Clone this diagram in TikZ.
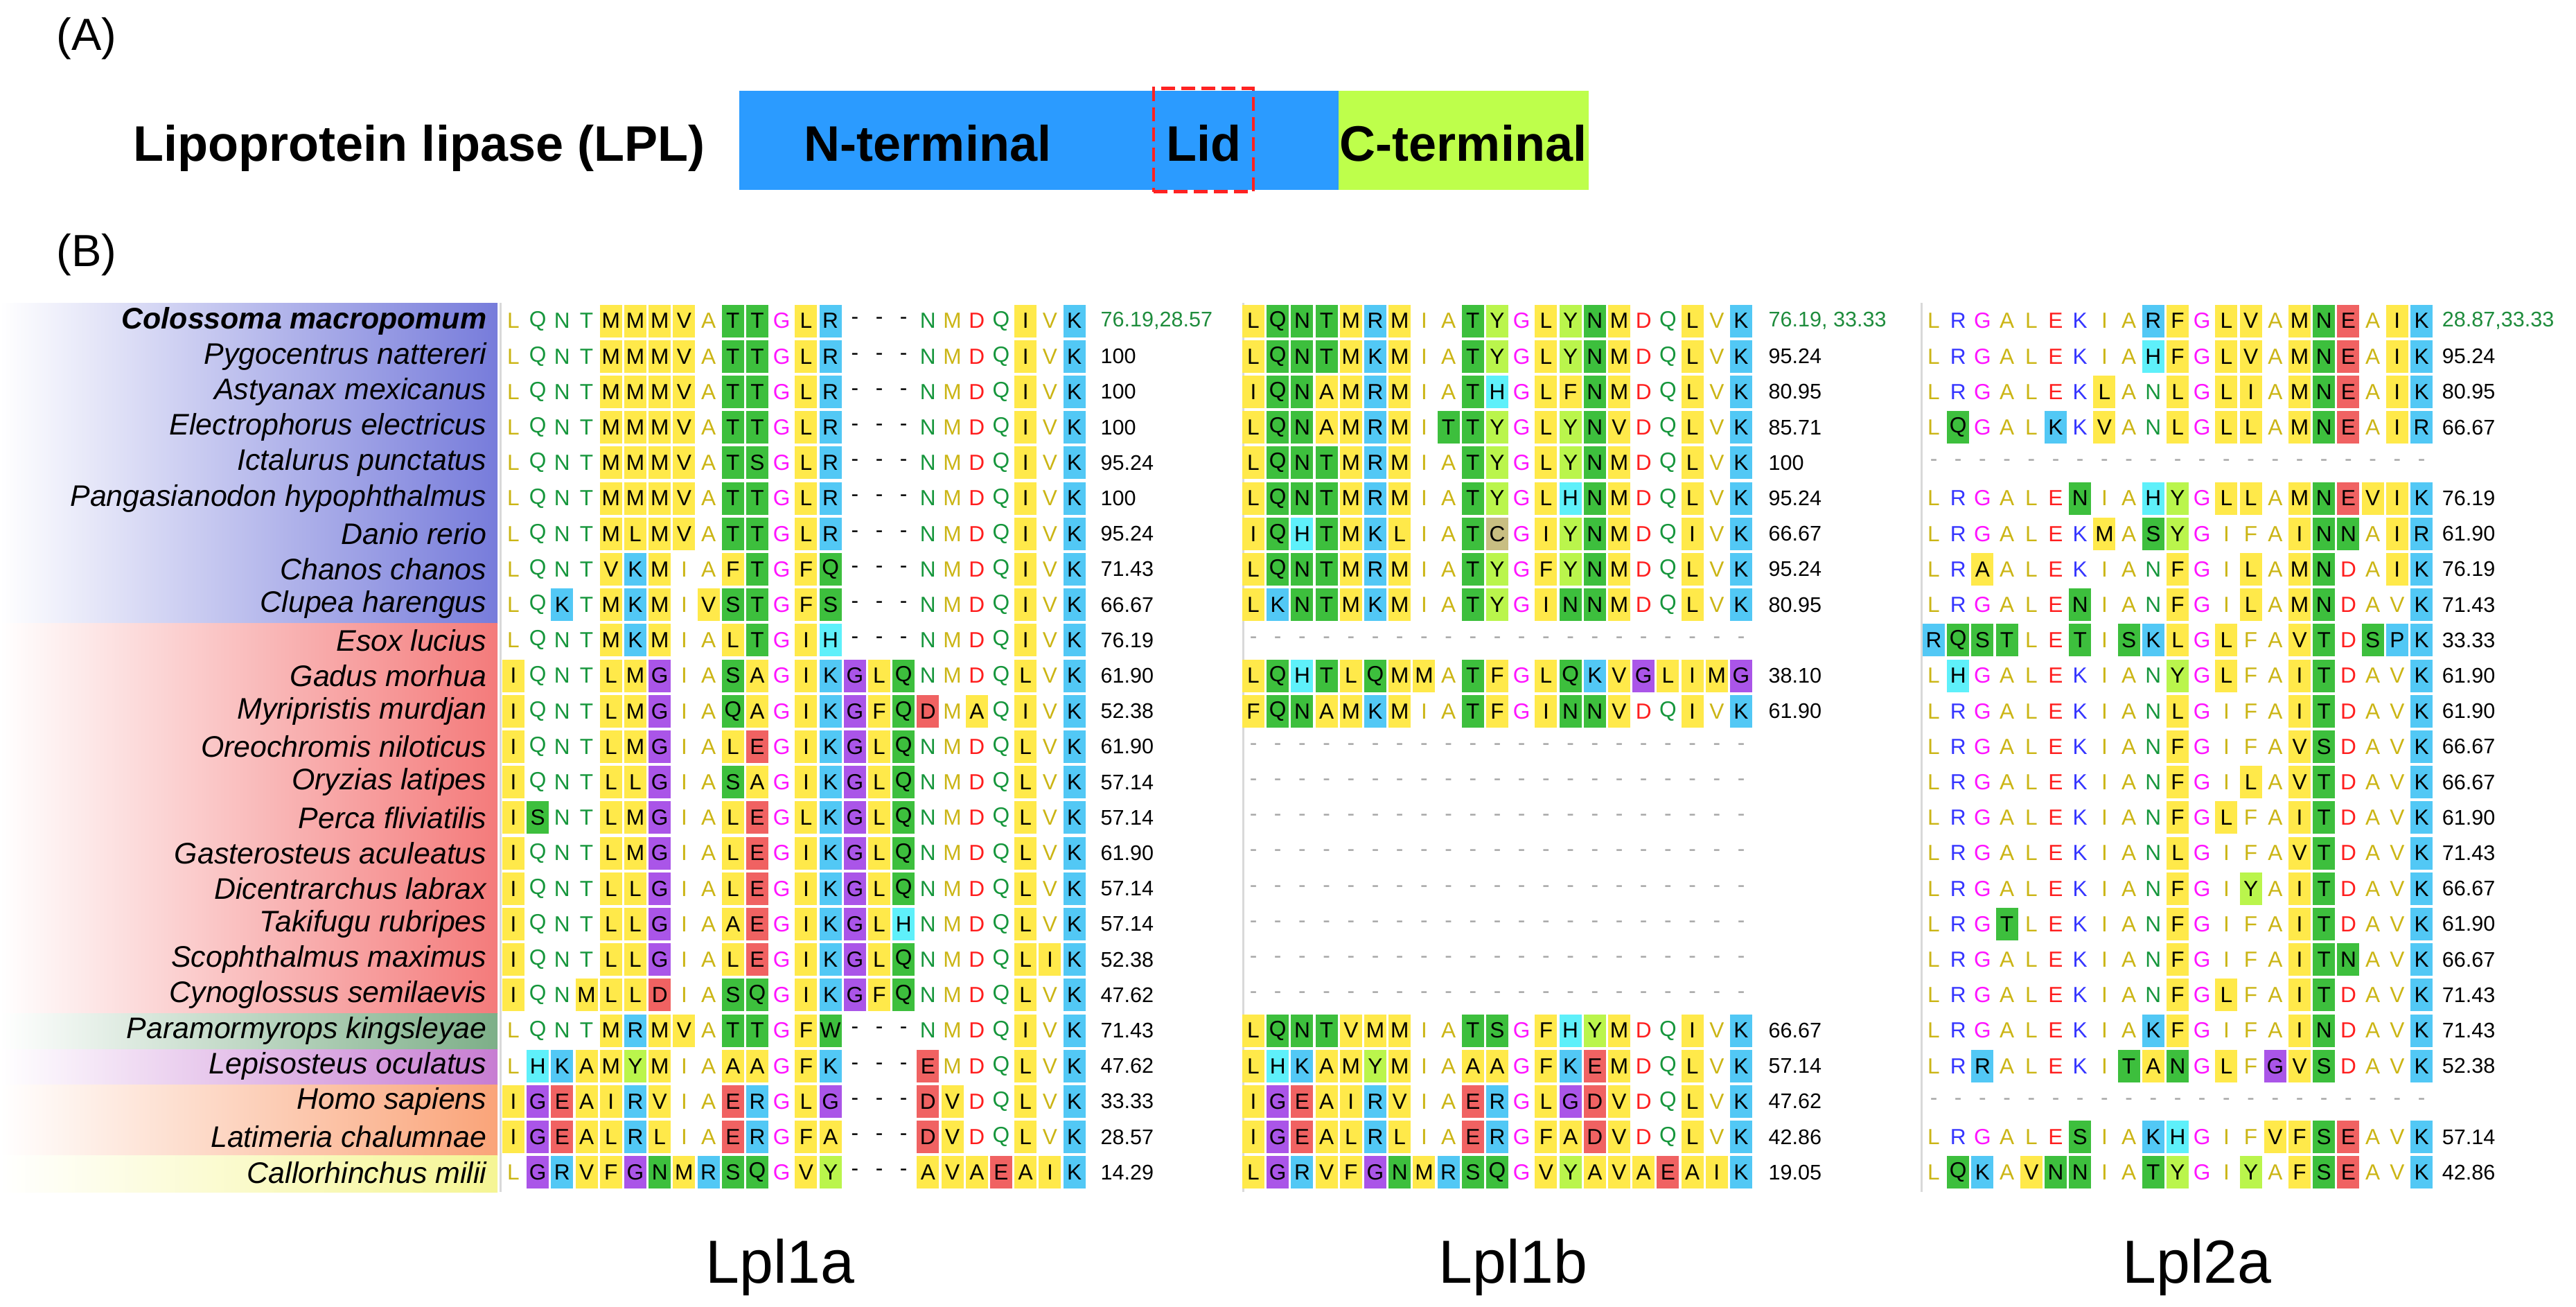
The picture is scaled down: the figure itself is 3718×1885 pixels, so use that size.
\documentclass[tikz,border=0pt]{standalone}
\usepackage{fontspec}
\setmainfont{Liberation Sans}

\definecolor{hydbg}{HTML}{FFE94A}
\definecolor{posbg}{HTML}{52C8F5}
\definecolor{hisbg}{HTML}{5EF0FA}
\definecolor{polbg}{HTML}{3DBF3D}
\definecolor{acibg}{HTML}{F06262}
\definecolor{glybg}{HTML}{AA55E8}
\definecolor{tyrbg}{HTML}{BAF54C}
\definecolor{cysbg}{HTML}{C8BE82}
\definecolor{hydfg}{HTML}{CBB515}
\definecolor{posfg}{HTML}{3535FF}
\definecolor{hisfg}{HTML}{20A8B8}
\definecolor{polfg}{HTML}{16963C}
\definecolor{acifg}{HTML}{FF1E1E}
\definecolor{glyfg}{HTML}{FF14FF}
\definecolor{tyrfg}{HTML}{70B000}
\definecolor{cysfg}{HTML}{A09850}
\definecolor{nblue}{HTML}{2B9BFF}
\definecolor{cgreen}{HTML}{BEFF4B}
\definecolor{lidred}{HTML}{FF2222}
\definecolor{headgreen}{HTML}{1E8C3C}
\definecolor{bandblue}{HTML}{777CDB}
\definecolor{bandred}{HTML}{F47B7B}
\definecolor{bandgreen}{HTML}{7DAF88}
\definecolor{bandpurple}{HTML}{C77DD2}
\definecolor{bandorange}{HTML}{FAA479}
\definecolor{bandyellow}{HTML}{F5F594}

\newcommand{\resfont}{\fontsize{9}{10}\selectfont}
\newcommand{\pctfont}{\fontsize{8.7}{10}\selectfont}
\newcommand{\spfont}{\fontsize{12.2}{14}\selectfont\itshape}
\newcommand{\headfont}{\fontsize{20.5}{24}\selectfont\bfseries}
\newcommand{\tagfont}{\fontsize{18.5}{22}\selectfont}
\newcommand{\genefont}{\fontsize{25}{30}\selectfont}

\newcount\colno
\newcommand{\seqrow}[4]{\def\blk{#1}\def\rowno{#2}\def\xzero{#3}\colno=0\relax
  \expandafter\seqnext#4\relax}
\newcommand{\seqnext}[1]{%
  \ifx\relax#1\else
    \advance\colno by 1\relax
    \node[res #1] (\blk-\rowno-\the\colno) at ({\xzero+35.2*(\the\colno-1)},{463+51.2*(\rowno-1)}) {\uppercase{#1}};%
    \expandafter\seqnext
  \fi}

\tikzset{
    cell/.style={minimum width=3.2mm, minimum height=4.7mm, inner sep=0pt, font=\resfont},
    hl/.style={cell, fill=#1bg, text=black},
    lo/.style={cell, text=#1fg},
    res A/.style={hl=hyd}, res a/.style={lo=hyd},
    res I/.style={hl=hyd}, res i/.style={lo=hyd},
    res L/.style={hl=hyd}, res l/.style={lo=hyd},
    res M/.style={hl=hyd}, res m/.style={lo=hyd},
    res F/.style={hl=hyd}, res f/.style={lo=hyd},
    res V/.style={hl=hyd}, res v/.style={lo=hyd},
    res K/.style={hl=pos}, res k/.style={lo=pos},
    res R/.style={hl=pos}, res r/.style={lo=pos},
    res P/.style={hl=pos}, res p/.style={lo=pos},
    res H/.style={hl=his}, res h/.style={lo=his},
    res N/.style={hl=pol}, res n/.style={lo=pol},
    res Q/.style={hl=pol}, res q/.style={lo=pol},
    res S/.style={hl=pol}, res s/.style={lo=pol},
    res T/.style={hl=pol}, res t/.style={lo=pol},
    res W/.style={hl=pol}, res w/.style={lo=pol},
    res D/.style={hl=aci}, res d/.style={lo=aci},
    res E/.style={hl=aci}, res e/.style={lo=aci},
    res G/.style={hl=gly}, res g/.style={lo=gly},
    res Y/.style={hl=tyr}, res y/.style={lo=tyr},
    res C/.style={hl=cys}, res c/.style={lo=cys},
    res -/.style={cell, text=black},
    nogap/.style={cell, text=black!35},
    pct/.style={anchor=west, inner sep=0pt, font=\pctfont},
    pcthead/.style={pct, text=headgreen},
    species/.style={anchor=east, inner sep=0pt, font=\spfont},
    tag/.style={inner sep=0pt, font=\tagfont},
    head/.style={inner sep=0pt, font=\headfont},
    gene/.style={anchor=base, inner sep=0pt, font=\genefont},
    lidbox/.style={draw=lidred, line width=0.45mm, dash pattern=on 2mm off 0.9mm,
        minimum width=14.4mm, minimum height=14.9mm, inner sep=0pt, font=\headfont,
        text height=6mm, text depth=0pt},
    blockline/.style={draw=black!15, line width=0.3mm}
}

\begin{document}
\begin{tikzpicture}[x=0.1mm, y=-0.1mm]
\useasboundingbox (0,0) rectangle (3718,1885);

\node[tag] (tagA) at (125,56) {(A)};
\node[head, anchor=base east] (lpl) at (1018,232) {Lipoprotein lipase (LPL)};
\fill[nblue] (1067,131) rectangle (1932,274);
\fill[cgreen] (1932,131) rectangle (2293,274);
\node[head, anchor=base] (nterm) at (1339,232) {N-terminal};
\node[head, anchor=base] (cterm) at (2112,232) {C-terminal};
\node[lidbox] (lid) at (1737,202) {Lid};

\node[tag] (tagB) at (125,368) {(B)};

\shade[left color=white, right color=bandblue] (0,437) rectangle (718,899);
\shade[left color=white, right color=bandred] (0,899) rectangle (718,1462);
\shade[left color=white, right color=bandgreen] (0,1462) rectangle (718,1514);
\shade[left color=white, right color=bandpurple] (0,1514) rectangle (718,1565);
\shade[left color=white, right color=bandorange] (0,1565) rectangle (718,1667);
\shade[left color=white, right color=bandyellow] (0,1667) rectangle (718,1720);

\draw[blockline] (722,437) -- (722,1720);
\draw[blockline] (1794,437) -- (1794,1720);
\draw[blockline] (2773,437) -- (2773,1720);

\node[species, font=\spfont\bfseries] (sp-1) at (703,463) {Colossoma macropomum};
\foreach \rw/\nm in {2/Pygocentrus nattereri, 3/Astyanax mexicanus,
    4/Electrophorus electricus, 5/Ictalurus punctatus,
    6/Pangasianodon hypophthalmus, 7/Danio rerio, 8/Chanos chanos,
    9/Clupea harengus, 10/Esox lucius, 11/Gadus morhua,
    12/Myripristis murdjan, 13/Oreochromis niloticus, 14/Oryzias latipes,
    15/Perca fliviatilis, 16/Gasterosteus aculeatus, 17/Dicentrarchus labrax,
    18/Takifugu rubripes, 19/Scophthalmus maximus, 20/Cynoglossus semilaevis,
    21/Paramormyrops kingsleyae, 22/Lepisosteus oculatus, 23/Homo sapiens,
    24/Latimeria chalumnae, 25/Callorhinchus milii}
  \node[species] (sp-\rw) at (703,{463+51.2*(\rw-1)}) {\nm};

\seqrow{a}{1}{741}{lqntMMMVaTTgLR---nmdqIvK}
\node[pcthead] (pa-1) at (1588,463) {76.19,28.57};
\foreach \rw/\sq/\pc in {2/lqntMMMVaTTgLR---nmdqIvK/100,
    3/lqntMMMVaTTgLR---nmdqIvK/100, 4/lqntMMMVaTTgLR---nmdqIvK/100,
    5/lqntMMMVaTSgLR---nmdqIvK/95.24, 6/lqntMMMVaTTgLR---nmdqIvK/100,
    7/lqntMLMVaTTgLR---nmdqIvK/95.24, 8/lqntVKMiaFTgFQ---nmdqIvK/71.43,
    9/lqKtMKMiVSTgFS---nmdqIvK/66.67, 10/lqntMKMiaLTgIH---nmdqIvK/76.19,
    11/IqntLMGiaSAgIKGLQnmdqLvK/61.90, 12/IqntLMGiaQAgIKGFQDmAqIvK/52.38,
    13/IqntLMGiaLEgIKGLQnmdqLvK/61.90, 14/IqntLLGiaSAgIKGLQnmdqLvK/57.14,
    15/ISntLMGiaLEgLKGLQnmdqLvK/57.14, 16/IqntLMGiaLEgIKGLQnmdqLvK/61.90,
    17/IqntLLGiaLEgIKGLQnmdqLvK/57.14, 18/IqntLLGiaAEgIKGLHnmdqLvK/57.14,
    19/IqntLLGiaLEgIKGLQnmdqLIK/52.38, 20/IqnMLLDiaSQgIKGFQnmdqLvK/47.62,
    21/lqntMRMVaTTgFW---nmdqIvK/71.43, 22/lHKAMYMiaAAgFK---EmdqLvK/47.62,
    23/IGEAIRViaERgLG---DVdqLvK/33.33, 24/IGEALRLiaERgFA---DVdqLvK/28.57,
    25/lGRVFGNMRSQgVY---AVAEAIK/14.29}{
  \seqrow{a}{\rw}{741}{\sq}
  \node[pct] (pa-\rw) at (1588,{463+51.2*(\rw-1)}) {\pc};
}

\seqrow{b}{1}{1809}{LQNTMRMiaTYgLYNMdqLvK}
\node[pcthead] (pb-1) at (2552,463) {76.19, 33.33};
\foreach \rw/\sq/\pc in {2/LQNTMKMiaTYgLYNMdqLvK/95.24,
    3/IQNAMRMiaTHgLFNMdqLvK/80.95, 4/LQNAMRMiTTYgLYNVdqLvK/85.71,
    5/LQNTMRMiaTYgLYNMdqLvK/100, 6/LQNTMRMiaTYgLHNMdqLvK/95.24,
    7/IQHTMKLiaTCgIYNMdqIvK/66.67, 8/LQNTMRMiaTYgFYNMdqLvK/95.24,
    9/LKNTMKMiaTYgINNMdqLvK/80.95, 11/LQHTLQMMaTFgLQKVGLIMG/38.10,
    12/FQNAMKMiaTFgINNVdqIvK/61.90, 21/LQNTVMMiaTSgFHYMdqIvK/66.67,
    22/LHKAMYMiaAAgFKEMdqLvK/57.14, 23/IGEAIRViaERgLGDVdqLvK/47.62,
    24/IGEALRLiaERgFADVdqLvK/42.86, 25/LGRVFGNMRSQgVYAVAEAIK/19.05}{
  \seqrow{b}{\rw}{1809}{\sq}
  \node[pct] (pb-\rw) at (2552,{463+51.2*(\rw-1)}) {\pc};
}
\foreach \rw in {10,13,14,15,16,17,18,19,20}
  \foreach \cl in {1,...,21}
    \node[nogap] (b-\rw-\cl) at ({1809+35.2*(\cl-1)},{463+51.2*(\rw-1)}) {-};

\seqrow{c}{1}{2791}{lrgalekiaRFgLVaMNEaIK}
\node[pcthead] (pc-1) at (3524,463) {28.87,33.33};
\foreach \rw/\sq/\pc in {2/lrgalekiaHFgLVaMNEaIK/95.24,
    3/lrgalekLanLgLIaMNEaIK/80.95, 4/lQgalKkVanLgLLaMNEaIR/66.67,
    6/lrgaleNiaHYgLLaMNEVIK/76.19, 7/lrgalekMaSYgifaINNaIR/61.90,
    8/lrAalekianFgiLaMNdaIK/76.19, 9/lrgaleNianFgiLaMNdavK/71.43,
    10/RQSTleTiSKLgLfaVTdSPK/33.33, 11/lHgalekianYgLfaITdavK/61.90,
    12/lrgalekianLgifaITdavK/61.90, 13/lrgalekianFgifaVSdavK/66.67,
    14/lrgalekianFgiLaVTdavK/66.67, 15/lrgalekianFgLfaITdavK/61.90,
    16/lrgalekianLgifaVTdavK/71.43, 17/lrgalekianFgiYaITdavK/66.67,
    18/lrgTlekianFgifaITdavK/61.90, 19/lrgalekianFgifaITNavK/66.67,
    20/lrgalekianFgLfaITdavK/71.43, 21/lrgalekiaKFgifaINdavK/71.43,
    22/lrRalekiTANgLfGVSdavK/52.38, 24/lrgaleSiaKHgifVFSEavK/57.14,
    25/lQKaVNNiaTYgiYaFSEavK/42.86}{
  \seqrow{c}{\rw}{2791}{\sq}
  \node[pct] (pc-\rw) at (3524,{463+51.2*(\rw-1)}) {\pc};
}
\foreach \rw in {5,23}
  \foreach \cl in {1,...,21}
    \node[nogap] (c-\rw-\cl) at ({2791+35.2*(\cl-1)},{463+51.2*(\rw-1)}) {-};

\node[gene] (g1a) at (1126,1851) {Lpl1a};
\node[gene] (g1b) at (2184,1851) {Lpl1b};
\node[gene] (g2a) at (3171,1851) {Lpl2a};
\end{tikzpicture}
\end{document}
